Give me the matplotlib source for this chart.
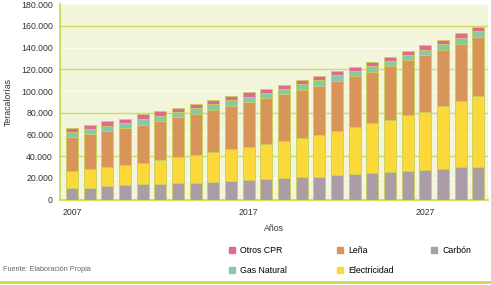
import numpy as np
import matplotlib.pyplot as plt

plt.rcParams['font.family'] = ['Liberation Sans', 'DejaVu Sans']

years = list(range(2007, 2031))
carbon = [11000, 11000, 12500, 13000, 14000, 14000, 15000, 15600, 16500, 17000, 17800, 19000,
          19600, 20500, 21100, 22400, 23300, 24200, 25100, 26400, 27300, 28500, 29800, 30300]
electricidad = [15500, 17000, 17600, 19000, 19500, 22500, 24000, 25000, 27000, 29600, 30500, 32100,
                34500, 36400, 38300, 41000, 43100, 45900, 48400, 51100, 53600, 57300, 60700, 64800]
lena = [31000, 32000, 33000, 34000, 35400, 35500, 36700, 38600, 39200, 39800, 41600, 42200,
        43200, 43700, 45600, 45600, 47200, 47800, 50000, 50900, 52100, 52500, 53300, 54600]
gas_natural = [5000, 5000, 5000, 4500, 5300, 5000, 5200, 5500, 5500, 4900, 4900, 5200,
               4900, 5600, 4900, 5500, 5000, 4900, 4600, 5000, 5000, 5100, 5300, 5500]
otros_cpr = [3800, 4000, 4000, 3700, 4300, 4200, 3700, 3700, 4000, 3700, 4000, 3700,
             3700, 4100, 4100, 3700, 3700, 3700, 3400, 3700, 4000, 4100, 4000, 4100]

series = [
    ('Carbón', carbon, '#ab9ca6'),
    ('Electricidad', electricidad, '#fcd93a'),
    ('Leña', lena, '#d99459'),
    ('Gas Natural', gas_natural, '#88c8a8'),
    ('Otros CPR', otros_cpr, '#e0698c'),
]
colors = {n: c for n, _, c in series}

fig = plt.figure(figsize=(4.91, 2.85), dpi=100)
ax = fig.add_axes([0.122, 0.30, 0.872, 0.685])
ax.set_facecolor('#f3f5da')

x = np.arange(len(years))
bottom = np.zeros(len(years))
for name, vals, col in series:
    ax.bar(x, vals, 0.68, bottom=bottom, color=col,
           edgecolor='#c9cf5e', linewidth=0.6, zorder=3)
    bottom += np.array(vals)

# background grid lines
for v in range(20000, 180001, 20000):
    if v % 40000 == 0:
        ax.axhline(v, color='#cfdc6c', lw=1.0, zorder=1)
    else:
        ax.axhline(v, color='#fbfcef', lw=1.0, zorder=1)

ax.set_xlim(-0.68, len(years) - 0.45)
ax.set_ylim(0, 180000)
yt = list(range(0, 180001, 20000))
ax.set_yticks(yt)
ax.set_yticklabels([f'{v:,}'.replace(',', '.') for v in yt], fontsize=6.3, color='#333333')
ax.set_xticks([0, 10, 20])
ax.set_xticklabels(['2007', '2017', '2027'], fontsize=6.3, color='#333333')
ax.tick_params(length=0, pad=5)
ax.tick_params(axis='x', pad=6)

for s in ['top', 'right']:
    ax.spines[s].set_visible(False)
for s in ['left', 'bottom']:
    ax.spines[s].set_color('#c8d84a')
    ax.spines[s].set_linewidth(1.2)

ax.set_ylabel('Teracalorías', fontsize=6.3, color='#333333', labelpad=6)
ax.set_xlabel('Años', fontsize=6.3, color='#333333', labelpad=5)

# legend, three columns placed like the original
columns = [(0.466, ['Otros CPR', 'Gas Natural']),
           (0.686, ['Leña', 'Electricidad']),
           (0.878, ['Carbón'])]
for xpos, names in columns:
    handles = [plt.Rectangle((0, 0), 1, 1, color=colors[n]) for n in names]
    fig.legend(handles, names, loc='upper left', bbox_to_anchor=(xpos, 0.137),
               frameon=False, fontsize=6.3, handlelength=0.7, handleheight=0.7,
               handletextpad=0.6, labelspacing=1.25, borderpad=0, borderaxespad=0)

fig.text(0.006, 0.05, 'Fuente: Elaboración Propia', fontsize=5.2, color='#666666')
fig.add_artist(plt.Line2D([0, 1], [0.01, 0.01], color='#c8dc50', lw=2, transform=fig.transFigure))

fig.savefig('out.png', dpi=100)
